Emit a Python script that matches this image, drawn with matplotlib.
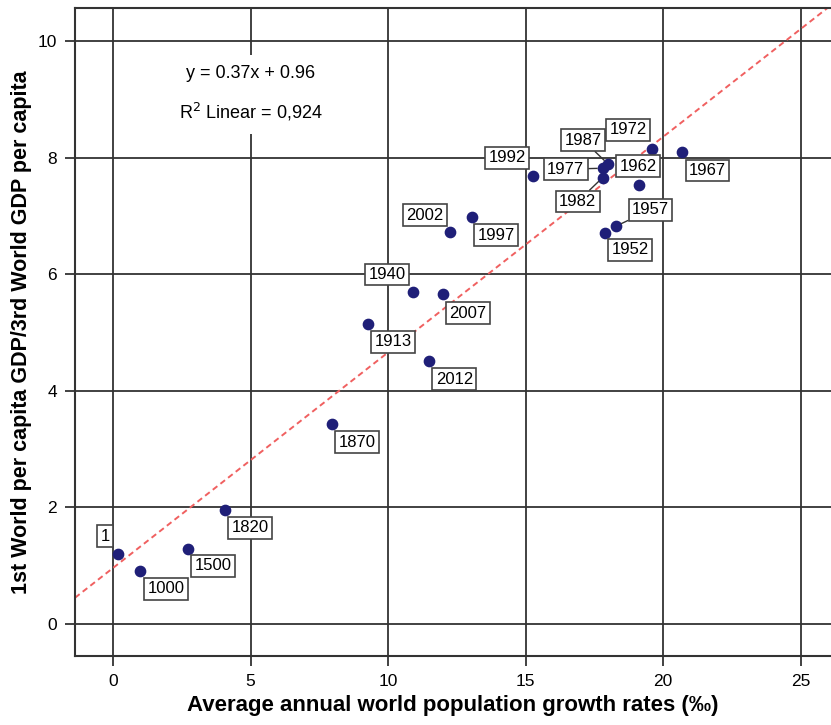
import matplotlib
matplotlib.use('Agg')
import matplotlib.pyplot as plt
import numpy as np

# population growth (per mille) vs GDP ratio
years = ['1', '1000', '1500', '1820', '1870', '1913', '1940', '1952', '1957',
         '1962', '1967', '1972', '1977', '1982', '1987', '1992', '1997',
         '2002', '2007', '2012']
growth = [0.18, 0.98, 2.73, 4.07, 7.96, 9.28, 10.9, 17.9, 18.3,
          19.13, 20.7, 19.6, 17.8, 17.8, 18.0, 15.27, 13.06,
          12.25, 12.0, 11.5]
gdp_ratio = [1.20, 0.91, 1.29, 1.96, 3.43, 5.15, 5.69, 6.71, 6.83,
             7.53, 8.09, 8.15, 7.82, 7.66, 7.89, 7.69, 6.98,
             6.72, 5.66, 4.51]

slope = 0.37
intercept = 0.96
r2_text = 'R$^2$ Linear = 0,924'

xticks = [0, 5, 10, 15, 20, 25]
yticks = [0, 2, 4, 6, 8, 10]

# label placement (pixel offsets from the point), layout only
offsets = {'1': (-13, 18), '1000': (26, -18), '1500': (25, -17), '1820': (25, -18),
           '1870': (25, -18), '1913': (25, -18), '1940': (-26, 18), '1952': (25, -17),
           '1957': (34, 16), '1962': (-1, 19), '1967': (25, -18), '1972': (-24, 19),
           '1977': (-37, -1), '1982': (-25, -24), '1987': (-25, 24), '1992': (-26, 18),
           '1997': (24, -18), '2002': (-25, 17), '2007': (25, -19), '2012': (25, -18)}
leaders = ['1957', '1977', '1982', '1987']

plt.rcParams['font.family'] = ['Liberation Sans', 'DejaVu Sans']

fig = plt.figure(figsize=(8.31, 7.25), dpi=100)
ax = fig.add_axes([0.0903, 0.0952, 0.9097, 0.8938])

gridc = '#333333'
ax.set_xlim(-1.38, 26.1)
ax.set_ylim(-0.55, 10.57)
ax.set_xticks(xticks)
ax.set_yticks(yticks)
ax.grid(True, color=gridc, lw=1.3)
ax.set_axisbelow(True)
ax.tick_params(length=7, width=1.3, color=gridc, labelsize=12.5, pad=6)
for s in ['left', 'bottom', 'top']:
    ax.spines[s].set_color(gridc)
    ax.spines[s].set_linewidth(1.5)
ax.spines['right'].set_visible(False)

# fit line
xl = np.array(ax.get_xlim())
ax.plot(xl, slope * xl + intercept, color='#f06060', lw=1.4, ls=(0, (3, 2)), zorder=2)

ax.scatter(growth, gdp_ratio, s=55, color='#1f1f78', zorder=4)

for yr, gx, gy in zip(years, growth, gdp_ratio):
    dx, dy = offsets[yr]
    ap = None
    if yr in leaders:
        ap = dict(arrowstyle='-', color='#333333', lw=1.0, shrinkA=0, shrinkB=4)
    ax.annotate(yr, (gx, gy), xytext=(dx, dy), textcoords='offset pixels',
                ha='center', va='center', fontsize=12,
                bbox=dict(boxstyle='square,pad=0.2', fc='white', ec='#444444', lw=1.2),
                arrowprops=ap, zorder=5)

ax.text(5, 9.09, 'y = 0.37x + 0.96\n' + r2_text, ha='center', va='center',
        fontsize=13, linespacing=2.1,
        bbox=dict(boxstyle='square,pad=0.6', fc='white', ec='none'), zorder=3)

ax.set_xlabel('Average annual world population growth rates (‰)',
              fontsize=16, fontweight='bold', labelpad=4)
ax.set_ylabel('1st World per capita GDP/3rd World GDP per capita',
              fontsize=15.5, fontweight='bold', labelpad=4)

fig.savefig('out.png', dpi=100)
